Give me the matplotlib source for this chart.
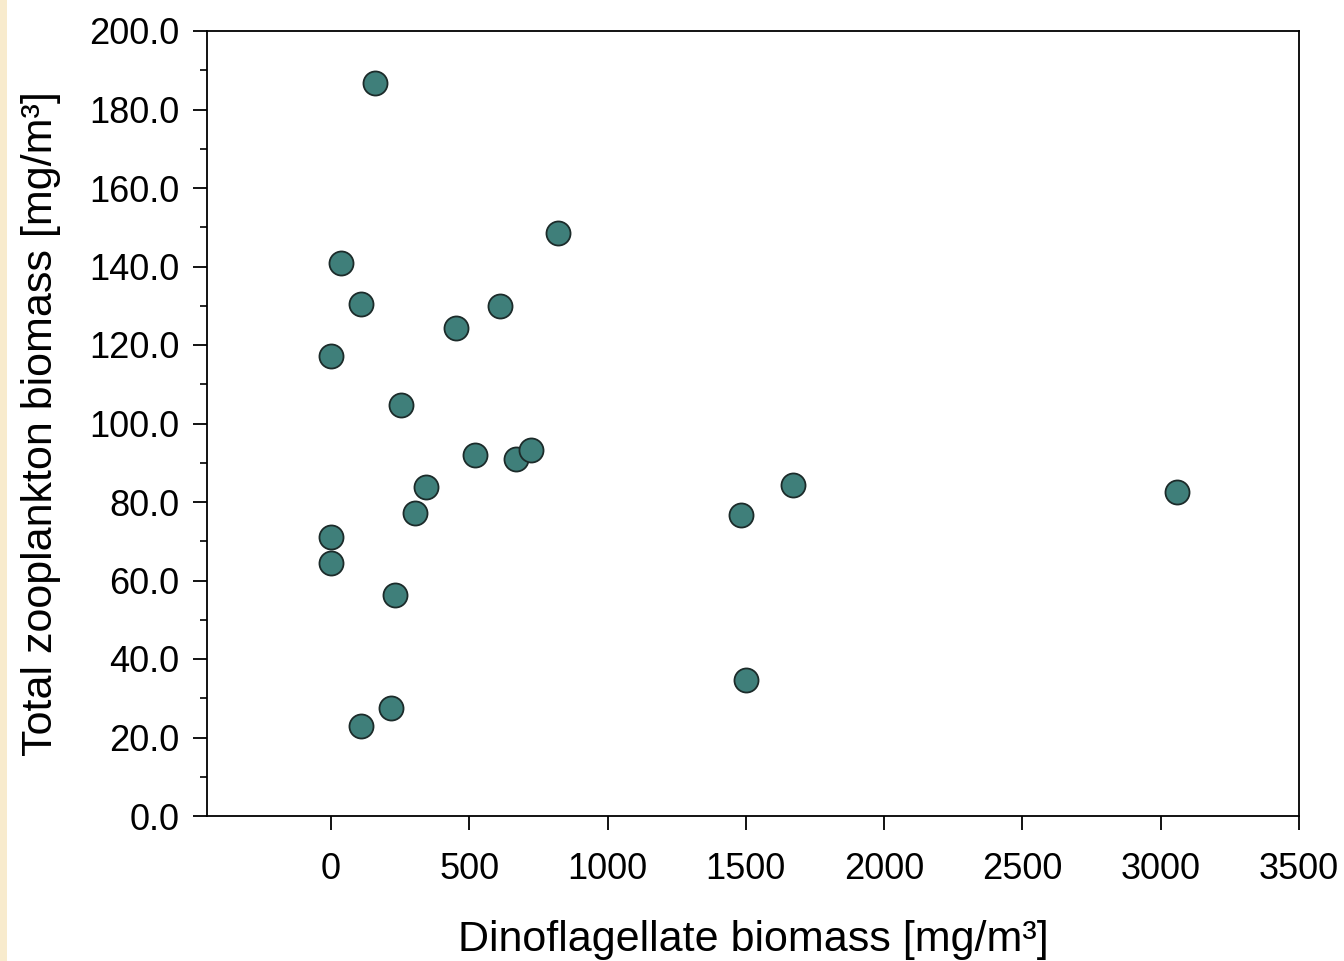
import matplotlib
matplotlib.use("Agg")
import matplotlib.pyplot as plt
from matplotlib.ticker import MultipleLocator, FormatStrFormatter
from matplotlib.patches import Rectangle

plt.rcParams['font.family'] = ['Liberation Sans', 'DejaVu Sans']

# --- Data ---
dino_biomass = [159, 821, 36, 108, 611, 452, 0, 253, 521, 669, 723,
                343, 304, 0, 0, 231, 217, 108, 1482, 1670, 1500, 3059]
zoo_biomass = [186.7, 148.5, 140.9, 130.4, 129.9, 124.3, 117.2, 104.7, 92.0, 91.0, 93.2,
               83.8, 77.2, 71.1, 64.5, 56.3, 27.5, 22.9, 76.7, 84.3, 34.6, 82.5]

fig = plt.figure(figsize=(13.44, 9.61), dpi=100)
ax = fig.add_axes([207 / 1344, 1 - 816 / 961, (1299 - 207) / 1344, (816 - 31) / 961])

# thin tan strip on the left edge
fig.patches.append(Rectangle((0, 0), 7 / 1344, 1, transform=fig.transFigure,
                             facecolor='#f8ebcd', edgecolor='none', zorder=0))

ax.scatter(dino_biomass, zoo_biomass, s=300, facecolor='#3f7f7a',
           edgecolor='#1c2b2a', linewidth=1.3, zorder=3)

ax.set_xlim(-448, 3500)
ax.set_ylim(0, 200)
ax.set_xticks([0, 500, 1000, 1500, 2000, 2500, 3000, 3500])
ax.yaxis.set_major_locator(MultipleLocator(20))
ax.yaxis.set_minor_locator(MultipleLocator(10))
ax.yaxis.set_major_formatter(FormatStrFormatter('%.1f'))

ax.tick_params(axis='both', which='major', direction='out', length=10, width=1.3,
               labelsize=26, colors='black')
ax.tick_params(axis='y', which='minor', direction='out', length=5, width=1.2)
ax.tick_params(axis='x', which='major', pad=16)
ax.tick_params(axis='y', which='major', pad=10)
for sp in ax.spines.values():
    sp.set_linewidth(1.3)

ax.set_xlabel('Dinoflagellate biomass [mg/m³]', fontsize=31, labelpad=24)
ax.set_ylabel('Total zooplankton biomass [mg/m³]', fontsize=31, labelpad=20)

fig.savefig('out.png', dpi=100)
